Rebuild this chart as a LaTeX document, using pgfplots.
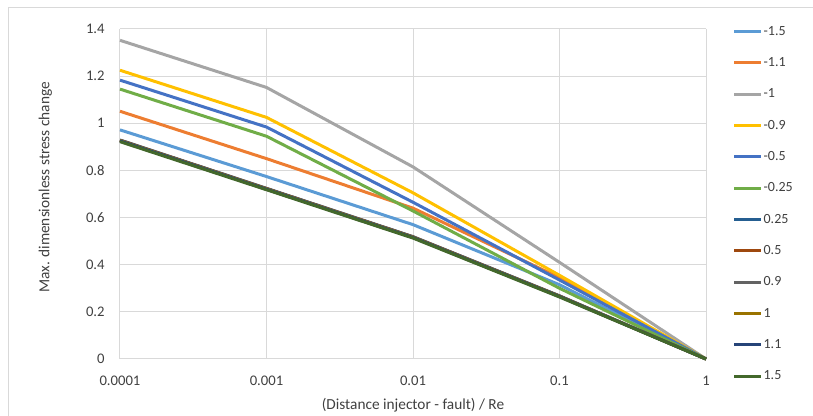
\documentclass[border=0pt]{standalone}
\usepackage{pgfplots}
\pgfplotsset{compat=1.18}
\usepackage{fontspec}
\setmainfont{Carlito}
\definecolor{c1}{HTML}{5B9BD5}
\definecolor{c2}{HTML}{ED7D31}
\definecolor{c3}{HTML}{A5A5A5}
\definecolor{c4}{HTML}{FFC000}
\definecolor{c5}{HTML}{4472C4}
\definecolor{c6}{HTML}{70AD47}
\definecolor{c7}{HTML}{255E91}
\definecolor{c8}{HTML}{9E480E}
\definecolor{c9}{HTML}{636363}
\definecolor{c10}{HTML}{997300}
\definecolor{c11}{HTML}{264478}
\definecolor{c12}{HTML}{43682B}
\definecolor{gridc}{HTML}{D9D9D9}
\definecolor{txt}{HTML}{404040}
\begin{document}
\begin{tikzpicture}
\useasboundingbox (0,0) rectangle (609.75pt,312pt);
\draw[gridc, line width=0.75pt] (6pt,-20pt) rectangle (640pt,306pt);
\begin{axis}[
  at={(90pt,42.75pt)}, anchor=south west,
  scale only axis, width=439.5pt, height=247.5pt,
  xmode=log, xmin=1e-4, xmax=1, ymin=0, ymax=1.4,
  xtick={1e-4,1e-3,1e-2,1e-1,1},
  xticklabels={0.0001,0.001,0.01,0.1,1},
  ytick={0,0.2,0.4,0.6,0.8,1,1.2,1.4},
  yticklabels={0,0.2,0.4,0.6,0.8,1,1.2,1.4},
  xminorticks=false, yminorticks=false,
  major tick length=0pt,
  axis line style={draw=none},
  grid=major,
  major grid style={gridc, line width=0.75pt},
  ticklabel style={font=\fontsize{11}{13}\selectfont, text=txt},
  yticklabel style={xshift=-8pt},
  xticklabel style={yshift=-9pt},
  xlabel={(Distance injector - fault) / Re},
  ylabel={Max. dimensionless stress change},
  xlabel style={at={(axis description cs:0.5,0)}, anchor=center, yshift=-34.5pt, font=\fontsize{11.5}{13}\selectfont, text=txt},
  ylabel style={at={(axis description cs:-0.1274,0.52)}, anchor=center, font=\fontsize{11.5}{13}\selectfont, text=txt},
  every axis plot/.append style={line width=2.25pt, line join=round},
  legend cell align=left,
  legend style={at={(1.045,1.016)}, anchor=north west, draw=none, fill=none, inner sep=0pt,
    font=\fontsize{10.5}{12}\selectfont, text=txt,
    nodes={inner sep=1pt, text height=7.5pt, text depth=2pt},
    row sep=12pt},
  legend image code/.code={\draw[#1, line width=2.25pt] (0pt,0pt) -- (20pt,0pt);},
  clip=false,
]
\addplot[c1] coordinates {(1e-4,0.972) (1e-3,0.774) (1e-2,0.570) (1e-1,0.315) (1,0)};
\addlegendentry{-1.5}
\addplot[c2] coordinates {(1e-4,1.051) (1e-3,0.850) (1e-2,0.640) (1e-1,0.345) (1,0)};
\addlegendentry{-1.1}
\addplot[c3] coordinates {(1e-4,1.352) (1e-3,1.152) (1e-2,0.815) (1e-1,0.410) (1,0)};
\addlegendentry{-1}
\addplot[c4] coordinates {(1e-4,1.225) (1e-3,1.025) (1e-2,0.705) (1e-1,0.355) (1,0)};
\addlegendentry{-0.9}
\addplot[c5] coordinates {(1e-4,1.183) (1e-3,0.984) (1e-2,0.665) (1e-1,0.335) (1,0)};
\addlegendentry{-0.5}
\addplot[c6] coordinates {(1e-4,1.145) (1e-3,0.945) (1e-2,0.628) (1e-1,0.300) (1,0)};
\addlegendentry{-0.25}
\addplot[c7] coordinates {(1e-4,0.929) (1e-3,0.724) (1e-2,0.519) (1e-1,0.268) (1,0)};
\addlegendentry{0.25}
\addplot[c8] coordinates {(1e-4,0.928) (1e-3,0.723) (1e-2,0.518) (1e-1,0.267) (1,0)};
\addlegendentry{0.5}
\addplot[c9] coordinates {(1e-4,0.927) (1e-3,0.722) (1e-2,0.517) (1e-1,0.266) (1,0)};
\addlegendentry{0.9}
\addplot[c10] coordinates {(1e-4,0.926) (1e-3,0.721) (1e-2,0.516) (1e-1,0.266) (1,0)};
\addlegendentry{1}
\addplot[c11] coordinates {(1e-4,0.925) (1e-3,0.720) (1e-2,0.515) (1e-1,0.265) (1,0)};
\addlegendentry{1.1}
\addplot[c12] coordinates {(1e-4,0.922) (1e-3,0.718) (1e-2,0.513) (1e-1,0.263) (1,0)};
\addlegendentry{1.5}
\end{axis}
\end{tikzpicture}
\end{document}
